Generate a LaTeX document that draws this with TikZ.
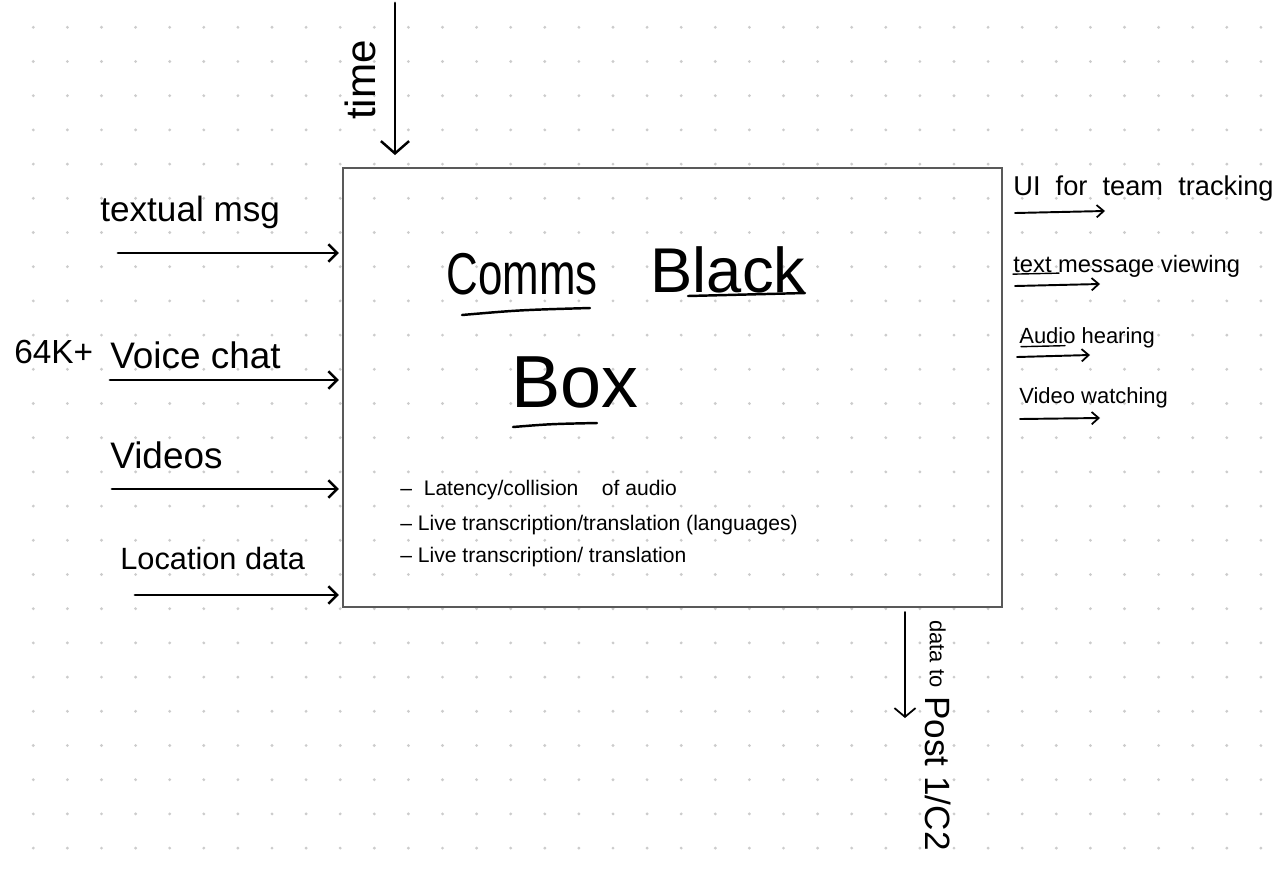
\documentclass[tikz,border=0pt]{standalone}
\usepackage{fontspec}
\setmainfont{Liberation Sans}
\usetikzlibrary{arrows.meta}
\begin{document}
\begin{tikzpicture}[x=0.02cm,y=-0.02cm,
  ink/.style={black,line cap=round},
  arr/.style={ink,line width=1.6pt,-{Straight Barb[length=5pt,width=10pt,line width=1.4pt]}},
  thinarr/.style={ink,line width=1.1pt,-{Straight Barb[length=4pt,width=7pt,line width=1pt]}},
  ulin/.style={ink,line width=1.4pt},
  thinul/.style={ink,line width=0.8pt},
  lbl/.style={inner sep=0pt,font=\fontsize{21}{24}\selectfont},
  outlbl/.style={inner sep=0pt,anchor=west,font=\fontsize{12.5}{15}\selectfont},
  ttl/.style={inner sep=0pt,font=\fontsize{34}{40}\selectfont},
  bul/.style={inner sep=0pt,anchor=west,font=\fontsize{12}{14}\selectfont},
  dot/.style={fill=gray!40}]
\useasboundingbox (0,0) rectangle (1288,873);
\fill[white] (0,0) rectangle (1288,873);
% dot grid
\foreach \i in {0,...,36}{
  \foreach \j in {0,...,24}{
    \fill[dot] ({33.3+34.1*\i},{27.3+34.2*\j}) circle[radius=0.9pt];
  }
}
% black box
\node[draw=black!65,line width=0.8pt,minimum width=13.18cm,minimum height=8.78cm,inner sep=0pt] (box) at (672.5,387.5) {};
% title
\node[ttl,font=\fontsize{32}{38}\selectfont] (comms) at (522,274) {\scalebox{0.78}[1.05]{Comms}};
\node[ttl,font=\fontsize{36}{42}\selectfont] (black) at (728,270) {Black};
\node[ttl,font=\fontsize{42}{48}\selectfont] (boxt) at (575,382) {Box};
\draw[ulin] (462,315) .. controls (520,310) .. (590,308);
\draw[ulin] (688,296) -- (805,293);
\draw[ulin] (513,427) .. controls (550,424) .. (597,423);
% bullets
\node[bul] (b1) at (400,490) {-- \ Latency/collision \ \ \ of audio};
\node[bul] (b2) at (400,525) {-- Live transcription/translation (languages)};
\node[bul] (b3) at (400,557) {-- Live transcription/ translation};
% time
\node[lbl,rotate=90,font=\fontsize{24}{28}\selectfont] (time) at (360,80) {time};
\coordinate (tstart) at (395,3);
\draw[arr,-{Straight Barb[length=7pt,width=16pt,line width=1.4pt]}] (tstart) -- (tstart |- box.north) [shorten >=7pt];
% inputs
\node[lbl,anchor=west,font=\fontsize{20}{24}\selectfont] (in1l) at (100,212) {textual msg};
\node[lbl,anchor=west,font=\fontsize{19}{22}\selectfont] (k64) at (14,352) {64K+};
\node[lbl,anchor=west] (in2l) at (110,355) {Voice chat};
\node[lbl,anchor=west] (in3l) at (110,455) {Videos};
\node[lbl,anchor=west,font=\fontsize{17.5}{20}\selectfont] (in4l) at (120,558) {Location data};
\coordinate (in1) at (118,253);
\coordinate (in2) at (110,380);
\coordinate (in3) at (112,489);
\coordinate (in4) at (135,595);
\foreach \c in {in1,in2,in3,in4}{
  \draw[arr,shorten >=2pt] (\c) -- (\c -| box.west);
}
% outputs
\node[outlbl,font=\fontsize{15.5}{18}\selectfont] (o1l) at (1013,188) {UI \ for \ team \ tracking};
\node[outlbl,font=\fontsize{13.5}{16}\selectfont] (o2l) at (1013,266) {text message viewing};
\node[outlbl] (o3l) at (1019,338) {Audio hearing};
\node[outlbl] (o4l) at (1019,398) {Video watching};
\draw[thinul] (o2l.base west) ++(0,2) -- ++(46,-1);
\draw[thinul] (o3l.base west) ++(2,3) -- ++(44,-1);
\coordinate (o1) at (1015,213);
\coordinate (o2) at (1015,286);
\coordinate (o3) at (1017,357);
\coordinate (o4) at (1020,419);
\coordinate (o1e) at (1105,211);
\coordinate (o2e) at (1100,284);
\coordinate (o3e) at (1090,355);
\coordinate (o4e) at (1100,418);
\draw[thinarr] (o1) -- (o1e);
\draw[thinarr] (o2) -- (o2e);
\draw[thinarr] (o3) -- (o3e);
\draw[thinarr] (o4) -- (o4e);
% bottom
\coordinate (dstart) at (905,612);
\coordinate (dend) at (905,718);
\draw[thinarr,-{Straight Barb[length=5pt,width=12pt,line width=1pt]}] (dstart) -- (dend);
\node[inner sep=0pt,anchor=west,rotate=-90] (dl) at (938,620) {\raisebox{0.25em}{\fontsize{12.5}{14}\selectfont data to}\hspace{0.5em}\fontsize{20}{22}\selectfont Post 1/C2};
\end{tikzpicture}
\end{document}
